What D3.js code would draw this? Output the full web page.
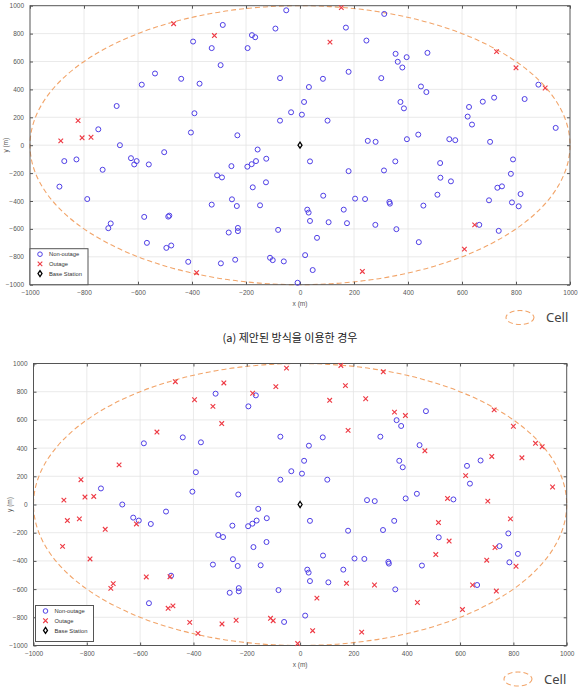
<!DOCTYPE html>
<html>
<head>
<meta charset="utf-8">
<script src="https://cdn.jsdelivr.net/npm/d3@7"></script>
<style>
  body { margin: 0; background: #fff; }
  svg { display: block; }
</style>
</head>
<body>
<svg id="chart" width="578" height="692"></svg>
<script>
// user positions (m), same users in both panels
const userX = [-468, -317, -286, -51, -91, -178, -166, -194, -327, -396, -294, -537, -440, -372, -586, -74, -679, -391, -33, -74,
  -747, -404, -232, -667, -822, -886, -807, -774, 153, 312, 170, 111, 246, 354, 362, 395, 379, 472, 728, 800,
  908, 883, 180, 85, 301, 33, 448, 468, 15, 372, 385, 7, 102, 626, 677, 719, 832, 621, 637, 947,
  251, 280, 396, 438, 553, 575, 704, -873, -828, -891, -731, -788, -626, -605, -614, -560, -503, -577, -484, -488,
  -701, -710, -567, -495, -477, -414, -383, -293, -240, -254, -307, -289, -195, -179, -163, -125, -157, -175, -126, -252,
  -327, -234, -148, -230, -230, -264, -81, -111, -101, -60, -9, 37, 180, 311, 353, 519, 520, 559, 509, 789,
  781, 731, 748, 817, 700, 785, 810, 86, 204, 241, 331, 333, 457, 27, 32, 37, 106, 162, 174, 279,
  357, 440, 63, 19, 47, 231, 609, 647, 664, 736];
const userY = [871, 786, 862, 967, 836, 789, 774, 696, 696, 743, 574, 514, 476, 441, 434, 481, 281, 229, 236, 176,
  114, 91, 71, 0, 176, 31, 53, 57, 986, 941, 843, 739, 750, 655, 598, 631, 557, 662, 671, 555,
  410, 434, 526, 476, 481, 417, 421, 381, 310, 310, 264, 219, 176, 274, 312, 341, 331, 205, 148, 124,
  31, 24, 43, 76, 43, 36, 24, -114, -102, -297, -176, -386, -93, -114, -138, -138, -50, -514, -505, -512,
  -561, -595, -700, -736, -719, -836, -914, -847, -821, -150, -216, -231, -154, -136, -114, -97, -31, -302, -266, -388,
  -426, -436, -431, -593, -616, -626, -607, -807, -824, -833, -986, -116, -186, -181, -116, -128, -233, -259, -355, -102,
  -205, -305, -295, -350, -395, -410, -438, -362, -383, -386, -407, -419, -433, -462, -483, -543, -552, -462, -559, -571,
  -602, -695, -664, -788, -895, -905, -745, -571, -571, -614];
// 1 = outage, 0 = non-outage
const outageProposed = [1, 1, 0, 0, 0, 0, 0, 0, 0, 0, 0, 0, 0, 0, 0, 0, 0, 0, 0, 0,
  0, 0, 0, 0, 1, 1, 1, 1, 1, 0, 0, 1, 0, 0, 0, 0, 0, 0, 1, 1,
  1, 0, 0, 0, 0, 0, 0, 0, 0, 0, 0, 0, 0, 0, 0, 0, 0, 0, 0, 0,
  0, 0, 0, 0, 0, 0, 0, 0, 0, 0, 0, 0, 0, 0, 0, 0, 0, 0, 0, 0,
  0, 0, 0, 0, 0, 0, 1, 0, 0, 0, 0, 0, 0, 0, 0, 0, 0, 0, 0, 0,
  0, 0, 0, 0, 0, 0, 0, 0, 0, 0, 0, 0, 0, 0, 0, 0, 0, 0, 0, 0,
  0, 0, 0, 0, 0, 0, 0, 0, 0, 0, 0, 0, 0, 0, 0, 0, 0, 0, 0, 0,
  0, 0, 0, 0, 0, 1, 1, 1, 0, 0];
const outageOther = [1, 0, 1, 1, 1, 1, 0, 0, 1, 1, 1, 1, 0, 0, 0, 0, 1, 0, 0, 0,
  0, 0, 0, 0, 1, 1, 1, 1, 1, 1, 1, 1, 1, 1, 0, 1, 0, 0, 1, 1,
  1, 1, 1, 0, 0, 0, 0, 1, 0, 0, 0, 0, 0, 0, 0, 1, 1, 1, 0, 1,
  0, 0, 0, 0, 1, 0, 1, 1, 1, 1, 1, 1, 0, 0, 1, 0, 0, 1, 0, 1,
  1, 1, 0, 1, 1, 1, 1, 1, 1, 0, 0, 0, 0, 0, 0, 0, 0, 0, 0, 0,
  0, 0, 0, 0, 0, 0, 0, 1, 1, 0, 1, 0, 0, 0, 0, 1, 0, 1, 1, 1,
  0, 1, 0, 0, 1, 0, 1, 0, 0, 0, 0, 0, 0, 0, 0, 0, 0, 0, 1, 1,
  0, 1, 1, 0, 1, 1, 1, 1, 0, 1];
const baseStation = [0, 0];
const cellRadius = 1000;
const tickValues = [-1000, -800, -600, -400, -200, 0, 200, 400, 600, 800, 1000];
const legendLabels = ["Non-outage", "Outage", "Base Station"];

const blue = "#4f3fe6";
const red = "#ee3b45";
const orange = "#f2a56a";
const labelFont = "Liberation Sans, Arial, sans-serif";
const crossPath = "M-2.3,-2.3L2.3,2.3M-2.3,2.3L2.3,-2.3";
const svg = d3.select("#chart");

function drawPanel(box, status, caption, cellPos) {
    let x = d3.scaleLinear().domain([-1000, 1000]).range([box.left, box.right]);
    let y = d3.scaleLinear().domain([-1000, 1000]).range([box.bottom, box.top]);
    let g = svg.append("g");

    // grid
    g.selectAll(".gx").data(tickValues.slice(1, -1)).enter().append("line")
        .attr("x1", d => x(d)).attr("x2", d => x(d))
        .attr("y1", box.top).attr("y2", box.bottom)
        .attr("stroke", "#e4e4e4").attr("stroke-width", 0.8);
    g.selectAll(".gy").data(tickValues.slice(1, -1)).enter().append("line")
        .attr("y1", d => y(d)).attr("y2", d => y(d))
        .attr("x1", box.left).attr("x2", box.right)
        .attr("stroke", "#e4e4e4").attr("stroke-width", 0.8);

    // cell boundary
    g.append("ellipse")
        .attr("cx", x(baseStation[0])).attr("cy", y(baseStation[1]))
        .attr("rx", x(cellRadius) - x(0)).attr("ry", y(0) - y(cellRadius))
        .attr("fill", "none").attr("stroke", orange)
        .attr("stroke-width", 1.1).attr("stroke-dasharray", "5,3");

    // frame + inward ticks on all sides
    let fmt = d3.format("d");
    let axisStyle = a => a.call(s => s.select(".domain").remove())
        .call(s => s.selectAll(".tick line").attr("stroke", "#555"));
    g.append("g").attr("transform", "translate(0," + box.bottom + ")")
        .call(d3.axisBottom(x).tickValues(tickValues).tickFormat(fmt).tickSize(-3).tickPadding(6))
        .call(axisStyle);
    g.append("g").attr("transform", "translate(0," + box.top + ")")
        .call(d3.axisTop(x).tickValues(tickValues).tickSize(-3).tickFormat(""))
        .call(axisStyle);
    g.append("g").attr("transform", "translate(" + box.left + ",0)")
        .call(d3.axisLeft(y).tickValues(tickValues).tickFormat(fmt).tickSize(-3).tickPadding(6))
        .call(axisStyle);
    g.append("g").attr("transform", "translate(" + box.right + ",0)")
        .call(d3.axisRight(y).tickValues(tickValues).tickSize(-3).tickFormat(""))
        .call(axisStyle);
    g.selectAll(".tick text")
        .attr("font-family", labelFont).attr("font-size", 6.5).attr("fill", "#555");
    g.append("rect")
        .attr("x", box.left).attr("y", box.top)
        .attr("width", box.right - box.left).attr("height", box.bottom - box.top)
        .attr("fill", "none").attr("stroke", "#555").attr("stroke-width", 1);

    // axis titles
    g.append("text")
        .attr("x", x(0)).attr("y", box.bottom + 21)
        .attr("text-anchor", "middle").attr("font-size", 6.5).attr("fill", "#555")
        .attr("font-family", labelFont)
        .text("x (m)");
    g.append("text")
        .attr("transform", "translate(" + (box.left - 22) + "," + y(0) + ") rotate(-90)")
        .attr("text-anchor", "middle").attr("font-size", 6.5).attr("fill", "#555")
        .attr("font-family", labelFont)
        .text("y (m)");

    // users
    let users = userX.map((ux, i) => ({ x: ux, y: userY[i], out: status[i] }));
    g.selectAll(".non").data(users.filter(d => !d.out)).enter().append("circle")
        .attr("cx", d => x(d.x)).attr("cy", d => y(d.y)).attr("r", 2.5)
        .attr("fill", "none").attr("stroke", blue).attr("stroke-width", 1);
    g.selectAll(".out").data(users.filter(d => d.out)).enter().append("path")
        .attr("transform", d => "translate(" + x(d.x) + "," + y(d.y) + ")")
        .attr("d", crossPath)
        .attr("fill", "none").attr("stroke", red).attr("stroke-width", 1.15);

    // base station
    g.append("path")
        .attr("transform", "translate(" + x(baseStation[0]) + "," + y(baseStation[1]) + ")")
        .attr("d", "M0,-3L2,0L0,3L-2,0Z")
        .attr("fill", "#fff").attr("stroke", "#000").attr("stroke-width", 1.3);

    // legend
    let lg = g.append("g").attr("transform", "translate(" + (box.left + box.legendDx) + "," + (box.bottom - 36 - box.legendDy) + ")");
    lg.append("rect").attr("width", 58).attr("height", 36)
        .attr("fill", "#fff").attr("stroke", "#555").attr("stroke-width", 1);
    legendLabels.forEach((lab, i) => {
        let ly = 5.5 + i * 9.7;
        if (i === 0) {
            lg.append("circle").attr("cx", 10).attr("cy", ly).attr("r", 2.3)
                .attr("fill", "none").attr("stroke", blue).attr("stroke-width", 1);
        } else if (i === 1) {
            lg.append("path").attr("transform", "translate(10," + ly + ")")
                .attr("d", crossPath)
                .attr("fill", "none").attr("stroke", red).attr("stroke-width", 1.1);
        } else {
            lg.append("path").attr("transform", "translate(10," + ly + ")")
                .attr("d", "M0,-3L2,0L0,3L-2,0Z")
                .attr("fill", "#fff").attr("stroke", "#000").attr("stroke-width", 1.3);
        }
        lg.append("text").attr("x", 19).attr("y", ly + 2.2)
            .attr("font-size", 5.8).attr("fill", "#333")
            .attr("font-family", labelFont)
            .text(lab);
    });

    // "Cell" key below the plot
    svg.append("ellipse")
        .attr("cx", cellPos[0]).attr("cy", cellPos[1]).attr("rx", 14).attr("ry", 7)
        .attr("fill", "none").attr("stroke", orange).attr("stroke-width", 1.1)
        .attr("stroke-dasharray", "5,3");
    svg.append("text")
        .attr("x", cellPos[0] + 26).attr("y", cellPos[1] + 4.5)
        .attr("font-size", 13).attr("fill", "#444")
        .attr("font-family", "Noto Sans, sans-serif")
        .text("Cell");

    if (caption) {
        svg.append("text")
            .attr("x", 290).attr("y", box.bottom + 57)
            .attr("text-anchor", "middle").attr("font-size", 11).attr("fill", "#222")
            .attr("font-family", "Noto Sans CJK KR, sans-serif")
            .text(caption);
    }
}

drawPanel({ left: 30, right: 570, top: 5.7, bottom: 284.7, legendDx: 0, legendDy: 0 },
    outageProposed, "(a) 제안된 방식을 이용한 경우", [520, 317.5]);
drawPanel({ left: 33.5, right: 566.7, top: 363.5, bottom: 645.5, legendDx: 2, legendDy: 4 },
    outageOther, null, [518, 679]);
</script>
</body>
</html>
